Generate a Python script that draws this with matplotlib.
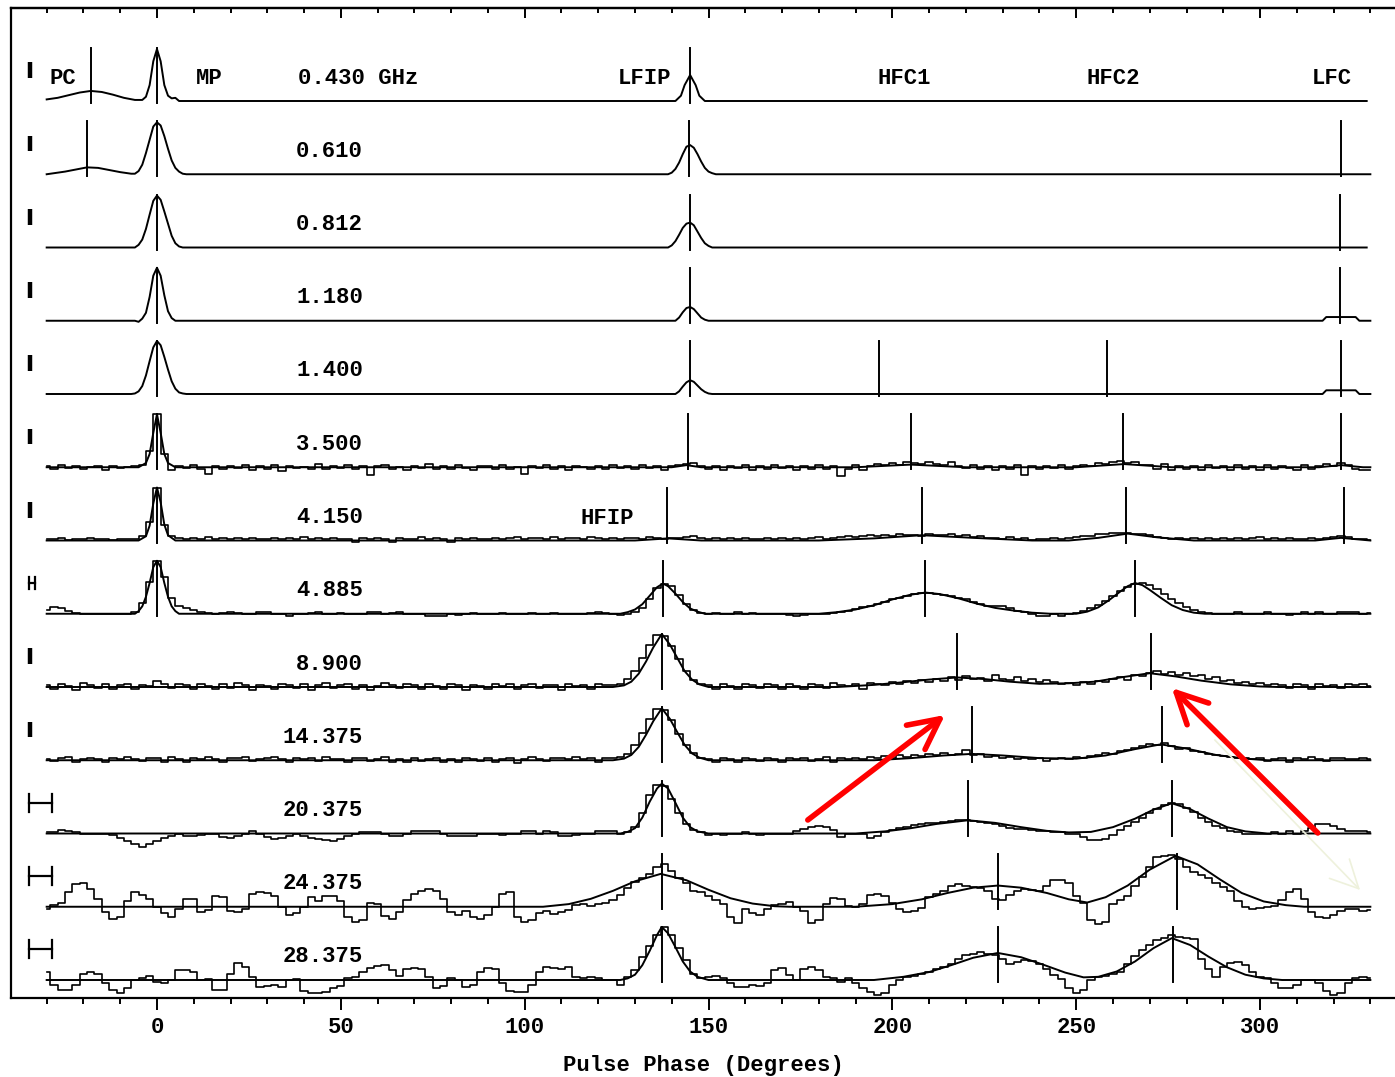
import numpy as np
import matplotlib
matplotlib.use("Agg")
import matplotlib.pyplot as plt
from matplotlib.ticker import MultipleLocator

# ---------------------------------------------------------------- labels
FREQ_LABELS = ["0.430 GHz", "0.610", "0.812", "1.180", "1.400", "3.500", "4.150",
               "4.885", "8.900", "14.375", "20.375", "24.375", "28.375"]
COMP_NAMES = ["PC", "MP", "LFIP", "HFC1", "HFC2", "LFC"]
COMP_NAME_PHASE = [-25.6, 14.1, 132.7, 203.2, 260.0, 319.4]
HFIP_NAME_PHASE = 122.5
X_TICK_LABELS = ["0", "50", "100", "150", "200", "250", "300"]

# ---------------------------------------------------- clean profiles (knots)
# phase (deg) and intensity (% of the tallest peak)
PH_0430 = [-30, -27, -24, -21, -18, -15, -12, -9, -6, -4, -3, -2, -1, 0, 1, 2, 3, 4, 5, 6,
           141, 142.5, 143.5, 145, 146.5, 147.5, 149, 329]
I_0430 = [3, 6, 11, 16, 19, 17, 12, 6, 2, 2, 8, 30, 75, 98, 75, 30, 10, 5, 6, 0,
          0, 10, 30, 49, 30, 10, 0, 0]

PH_0610 = [-30, -28, -25, -22, -19, -16, -13, -10, -7, -6, -5, -4, -3, -2, -1, 0, 1, 2, 3, 4,
           5, 6, 7, 8, 139, 140, 141, 142, 143, 144, 145, 146, 147, 148, 149, 150, 151, 152, 330]
I_0610 = [0, 2, 5, 9, 13, 12, 8, 4, 1, 1, 6, 18, 40, 65, 90, 98, 92, 72, 48, 26,
          12, 5, 1, 0, 0, 3, 10, 22, 38, 52, 55, 50, 38, 24, 12, 5, 2, 0, 0]

PH_0812 = [-30, -6, -5, -4, -3, -2, -1, 0, 1, 2, 3, 4, 5, 6, 7,
           139, 140, 141, 142, 143, 144, 145, 146, 147, 148, 149, 150, 151, 329]
I_0812 = [0, 0, 5, 15, 35, 62, 88, 98, 90, 68, 45, 22, 8, 2, 0,
          0, 4, 12, 24, 37, 45, 47, 42, 30, 18, 8, 3, 0, 0]

PH_1180 = [-30, -6, -5, -4, -3, -2, -1, 0, 1, 2, 3, 4, 5,
           141, 142, 143, 144, 145, 146, 147, 148, 149, 150, 317, 318, 326, 327, 330]
I_1180 = [0, 0, -2, 4, 15, 45, 85, 100, 85, 48, 18, 5, 0,
          0, 6, 16, 24, 26, 22, 14, 6, 2, 0, 0, 7, 7, 0, 0]

PH_1400 = [-30, -7, -6, -5, -4, -3, -2, -1, 0, 1, 2, 3, 4, 5, 6, 7, 8,
           141, 142, 143, 144, 145, 146, 147, 148, 149, 150, 151, 317, 318, 326, 327, 330]
I_1400 = [0, 0, 1, 5, 15, 35, 62, 88, 100, 92, 70, 46, 24, 10, 3, 1, 0,
          0, 5, 14, 22, 26, 23, 16, 9, 4, 1, 0, 0, 7, 7, 0, 0]

# ------------------------------------------- noisy profiles, 2-degree bins
BIN_START = -30
BIN_WIDTH = 2

I_3500 = [2, -3, 4, -2, 3, -4, 1, 2, -5, 3, -2, 0, 2, 4, 30, 100, 25, -6, 3, -2,
          4, -3, -12, 2, -4, 3, -2, 5, -5, 2, -3, 4, -8, 3, -2, 1, -4, 6, -3, 2,
          -2, 5, -4, 3, -14, 2, 4, -3, 1, -5, 3, -2, 6, -4, 2, -3, 4, -2, -5, 3,
          2, -4, 5, -3, 1, -12, 3, -2, 4, -3, 2, -5, 3, 1, -4, 2, -3, 5, -2, 3,
          -3, 4, -2, 3, -5, 2, 4, 6, 8, 3, -4, 2, -6, 3, -2, 4, -5, 2, -3, 5,
          -2, 3, -6, 2, -4, 5, -3, 2, -16, -3, 4, -5, 2, 6, 4, 8, 5, 10, 8, 6,
          9, 7, 4, 10, 3, -2, 5, -4, 2, -6, 3, -3, 4, -14, 2, -4, 3, -2, 5, -3,
          2, 4, 3, 8, 6, 10, 12, 8, 9, 4, 5, -3, 6, -5, 2, -4, 3, -6, 4, -2,
          3, -5, 4, -3, 2, -6, 5, -4, 3, -2, -5, 4, -3, 2, 6, 3, 8, 4, -3, -5,
          -6]
I_4150 = [3, 2, 4, 1, 3, 2, 4, 2, 3, 1, 2, 3, 2, 8, 35, 100, 30, 8, 4, 2,
          5, 3, 6, 2, 4, 3, 5, 2, 4, 3, 2, 5, 3, 4, 2, 6, 3, 5, 2, 4,
          3, 2, -3, 4, 2, 5, 3, -2, 4, 2, 3, 6, 2, 4, 3, -3, 5, 2, 4, 3,
          2, 5, 3, 4, 6, 3, 5, 4, 2, 6, 3, 5, 4, 3, 6, 4, 2, 5, 3, 4,
          5, 3, 6, 4, 3, 5, 4, 6, 8, 5, 3, 4, 2, 5, 3, 4, 2, 3, 5, 3,
          4, 2, 5, 3, 4, 6, 3, 5, 6, 8, 7, 9, 10, 8, 11, 9, 12, 10, 11, 9,
          12, 10, 11, 13, 9, 10, 7, 8, 4, 5, 3, 6, 2, 4, 1, 3, 2, 4, 3, 5,
          6, 8, 9, 12, 13, 15, 14, 15, 12, 13, 10, 6, 4, 3, 5, 2, 4, 3, 5, 2,
          4, 3, 5, 2, 4, 6, 3, 5, 2, 4, 3, 2, 5, 3, 4, 6, 8, 6, 3, 2,
          1]
I_4885 = [8, 12, 11, 5, 2, 0, 0, 0, 0, 0, 0, 0, 3, 20, 60, 100, 70, 30, 15, 10,
          8, 4, 2, 0, 2, 3, 2, 0, 0, 3, 4, 0, 0, -4, 0, 0, 2, 3, 0, 0,
          2, 0, 0, 0, 3, 3, 0, 2, 4, 0, 0, 0, -5, -5, -4, 0, -3, 0, 2, 0,
          0, 0, 2, 0, 0, 0, 2, 0, 0, 2, 0, 0, 0, 0, 2, 3, 2, 0, -3, 0,
          3, 10, 28, 48, 57, 52, 35, 18, 7, 2, 0, 2, 0, 0, 3, 0, 2, 0, 0, 0,
          0, -3, -4, -3, 0, 0, 0, 2, 3, 6, 9, 12, 15, 19, 23, 27, 30, 34, 37, 40,
          40, 38, 35, 33, 30, 27, 22, 18, 15, 14, 15, 10, 6, 3, 0, -4, -4, 0, -4, 0,
          2, 5, 10, 16, 24, 33, 42, 51, 57, 58, 55, 47, 38, 28, 20, 12, 7, 3, 2, 0,
          0, 0, 3, 0, 0, 0, 3, 0, 0, -3, 0, 3, 0, 3, 0, 0, 4, 4, 4, 0,
          2]
I_8900 = [4, -3, 6, 2, -5, 8, 3, -2, 5, -4, 3, 6, -3, 4, 2, 12, 6, -2, 5, 3,
          -4, 6, 2, -3, 5, -2, 7, 3, -6, 4, 2, -3, 6, 4, -2, 5, -5, 3, 7, -2,
          3, 6, -3, 4, -5, 2, 8, 3, -2, 5, 4, -4, 6, 2, -3, 5, 3, -6, 4, 2,
          -3, 5, 2, 6, -4, 3, 5, -2, 4, 3, -5, 6, 2, 4, -3, 5, 3, 4, 6, 15,
          30, 55, 80, 98, 96, 78, 52, 30, 14, 6, 4, -3, 5, 2, -4, 6, 3, -2, 5, 4,
          -3, 6, 2, -4, 5, 3, -2, 7, 4, 2, 6, -3, 8, 5, 3, 9, 6, 12, 8, 14,
          10, 16, 12, 18, 14, 20, 15, 17, 12, 22, 16, 13, 18, 12, 15, 9, 14, 10, 6, 8,
          4, 9, 6, 12, 10, 15, 18, 14, 22, 20, 26, 30, 24, 28, 22, 26, 20, 22, 16, 18,
          12, 14, 8, 10, 5, 8, 3, 6, 4, -2, 5, 3, -3, 6, 2, 4, -2, 5, 3, 6,
          2]
I_14375 = [3, -2, 4, 6, -3, 2, 5, 3, -4, 4, 2, 6, 3, -2, 5, 4, -3, 6, 2, -4,
           4, 3, 6, 2, -3, 5, 4, 7, -2, 3, 5, 6, 2, -4, 4, 3, 5, -2, 6, 3,
           2, -3, 5, 4, -2, 3, 6, -4, 2, -3, 4, -2, 3, 5, -4, 2, -3, 4, 3, -2,
           5, -3, 2, 4, -5, 3, 6, 2, -2, 4, 5, 3, 6, 2, 4, -3, 5, 4, 6, 12,
           28, 52, 78, 96, 95, 76, 50, 28, 13, 5, 3, -3, 4, 2, -4, 5, 3, -2, 4, 2,
           -3, 4, 2, 5, -2, 3, 6, -4, 4, 2, 5, 3, 6, 4, 8, 5, 9, 7, 10, 8,
           12, 9, 14, 10, 12, 20, 9, 11, 7, 8, 5, 6, 3, 5, 2, 4, -2, 3, 5, 2,
           6, 4, 8, 10, 14, 12, 18, 20, 24, 26, 30, 28, 32, 26, 22, 24, 18, 16, 12, 10,
           8, 6, 4, 5, 2, 4, -2, 3, 5, -3, 4, 2, 6, 3, -2, 4, 5, 3, 2, 4,
           3]
I_20375 = [2, 3, 6, 5, 3, 0, 0, 0, 0, -3, -8, -14, -20, -25, -20, -15, -8, -4, 0, -4,
           -4, -2, 0, 0, -6, -8, -4, 0, 4, 0, -6, -10, -8, -4, 0, -4, -8, -10, -12, -14,
           -10, -4, 0, 3, 3, 3, 0, -4, -4, 0, 5, 5, 5, 5, 0, -5, -5, -4, -5, 0,
           0, 0, -3, 0, 0, 4, 4, 0, 4, 3, -4, -4, -2, 0, 0, 5, 5, 5, 0, 3,
           12, 38, 72, 92, 90, 66, 38, 18, 6, 2, -3, 0, -2, 0, 0, 3, 0, -2, 0, 0,
           0, 0, 4, 8, 12, 14, 12, 6, -6, 0, 0, 0, -8, -4, 2, 6, 10, 12, 16, 18,
           20, 20, 22, 24, 25, 25, 24, 22, 20, 18, 14, 10, 8, 8, 6, 4, 4, 3, 2, 0,
           0, -6, -12, -12, -10, -2, 6, 14, 22, 30, 38, 46, 53, 57, 55, 48, 40, 30, 22, 15,
           10, 5, 3, 0, 0, 0, 0, 3, 0, 5, 0, 4, 10, 18, 18, 15, 8, 5, 5, 4,
           3]
I_24375 = [-4, 4, 8, 28, 42, 45, 34, 15, -10, -23, -20, 10, 28, 22, 15, 0, -12, -19, -5, 15,
           15, -10, -6, 21, 18, -8, -10, -5, 24, 28, 26, 20, 0, -15, -12, 0, 18, 10, 21, 20,
           10, -20, -28, -25, 8, 5, -18, -23, -10, 12, 25, 30, 34, 30, 15, -10, -15, -8, -20, -23,
           -15, 0, 25, 28, -20, -28, -25, -12, -8, -13, -10, -6, 3, 5, 2, 6, 8, 12, 22, 35,
           47, 55, 62, 75, 81, 68, 55, 45, 30, 28, 20, 12, 5, -20, -30, -5, -12, -15, -5, 3,
           6, 9, 0, -8, -30, -25, 6, 17, 15, 2, 0, 5, 22, 25, 20, 8, -5, -10, -8, -3,
           18, 25, 30, 40, 42, 40, 38, 36, 30, 15, 13, 22, 30, 34, 32, 30, 40, 50, 51, 45,
           20, 8, -25, -32, -28, 5, 12, 20, 40, 57, 75, 94, 96, 98, 90, 75, 66, 60, 55, 45,
           38, 30, 10, 0, -5, -3, 0, 2, 12, 28, 34, 15, -10, -20, -22, -15, -8, -5, -4, -8,
           -6]
I_28375 = [15, -10, -18, -19, -10, 12, 15, 12, -5, -19, -25, -15, 0, 3, 8, -3, -5, 0, 18, 19,
           15, 0, 2, -19, -18, 12, 32, 25, 5, -13, -12, -10, -13, 0, 2, -20, -25, -25, -22, -15,
           -12, 3, 5, 15, 22, 26, 28, 18, 8, 20, 22, 20, 5, -15, -12, 3, 0, -13, -10, 15,
           22, 20, -5, -20, -22, -22, -10, 15, 25, 22, 20, 24, 5, 3, 5, 3, 0, 0, -9, 5,
           18, 43, 65, 85, 100, 85, 60, 38, 12, 3, 5, 8, 3, -5, -13, -13, -10, -12, -5, 18,
           22, 10, 0, 20, 25, 18, 5, 3, -3, 3, -5, -15, -22, -28, -25, -10, 0, 5, 8, 12,
           15, 20, 25, 30, 40, 47, 50, 53, 50, 48, 40, 30, 34, 38, 36, 30, 20, 10, 2, -15,
           -25, -18, 0, 5, 8, 12, 16, 30, 45, 57, 66, 75, 80, 85, 82, 80, 78, 40, 20, 5,
           25, 32, 34, 28, 15, 5, 3, -5, -15, -15, -10, 0, 0, -5, -20, -28, -25, -5, 3, 5,
           4]

# ------------------------------------------------ fitted curves (knots)
FPH_3500 = [-30, -5, -3, -2, -1, 0, 1, 2, 3, 5, 140, 144, 148, 190, 205, 220, 250, 263, 276, 316, 322, 328, 330]
FIT_3500 = [0, 0, 8, 25, 65, 100, 65, 25, 8, 0, 0, 4, 0, 0, 5, 0, 0, 6, 0, 0, 4, 0, 0]
FPH_4150 = [-30, -5, -3, -2, -1, 0, 1, 2, 3, 5, 130, 139, 148, 180, 195, 208, 222, 238, 248, 256, 264, 272, 282, 315, 322, 330]
FIT_4150 = [0, 0, 8, 28, 70, 100, 72, 30, 10, 0, 0, 4, 0, 0, 4, 10, 5, 0, 0, 5, 13, 6, 0, 0, 5, 0]
FPH_4885 = [-30, -6, -5, -4, -3, -2, -1, 0, 1, 2, 3, 4, 5, 6, 126, 128, 130, 132, 134, 136, 137.6, 139, 141, 143, 145, 147, 149,
            180, 185, 190, 195, 200, 205, 209, 213, 218, 223, 228, 233, 238, 243, 250, 253, 256, 259, 262, 264, 266, 268, 270, 273,
            276, 279, 282, 285, 330]
FIT_4885 = [0, 0, 5, 14, 32, 58, 88, 100, 88, 58, 32, 14, 5, 0, 0, 3, 8, 18, 34, 50, 57, 52, 38, 22, 10, 4, 0,
            0, 3, 8, 16, 27, 36, 40, 37, 29, 19, 11, 6, 2, 0, 0, 4, 12, 26, 42, 52, 58, 54, 45, 30,
            16, 7, 2, 0, 0]
FPH_8900 = [-30, 124, 127, 129, 131, 133, 135, 137.3, 139.5, 141.5, 143.5, 145.5, 147.5, 150, 185, 195, 203, 210, 217.6, 225,
            232, 240, 248, 255, 262, 270, 277, 284, 292, 300, 305, 330]
FIT_8900 = [0, 0, 3, 10, 25, 48, 75, 100, 80, 55, 30, 14, 5, 0, 0, 4, 9, 14, 18, 15,
            10, 6, 7, 10, 18, 26, 20, 12, 5, 1, 0, 0]
FPH_14375 = [-30, 124, 127, 129, 131, 133, 135, 137.3, 139.5, 141.5, 143.5, 145.5, 147.5, 150, 195, 205, 214, 221.6, 230,
             240, 250, 258, 266, 273, 280, 288, 296, 302, 330]
FIT_14375 = [0, 0, 3, 10, 25, 48, 74, 98, 78, 53, 29, 13, 5, 0, 0, 4, 9, 12, 9,
             4, 3, 9, 21, 30, 22, 10, 3, 0, 0]
FPH_20375 = [-30, 126, 128, 130, 132, 134, 136, 137.3, 139, 141, 143, 145, 147, 150, 190, 198, 205, 212, 220.6, 228,
             235, 242, 248, 254, 260, 266, 271, 276, 281, 286, 291, 296, 302, 330]
FIT_20375 = [0, 0, 3, 10, 30, 60, 85, 94, 85, 58, 30, 12, 4, 0, 0, 4, 10, 18, 25, 20,
             12, 5, 2, 3, 12, 28, 45, 57, 46, 28, 12, 4, 0, 0]
FPH_24375 = [-30, 105, 112, 118, 124, 130, 137, 144, 150, 156, 162, 168, 172, 190, 200, 208, 215, 222, 228.7, 235,
             242, 248, 253, 258, 264, 270, 277, 283, 289, 295, 301, 307, 312, 330]
FIT_24375 = [0, 0, 5, 15, 30, 48, 62, 50, 32, 16, 6, 1, 0, 0, 5, 14, 26, 36, 40, 36,
             26, 14, 8, 18, 40, 70, 96, 80, 52, 26, 10, 3, 0, 0]
FPH_28375 = [-30, 126, 128, 130, 132, 134, 136, 137.3, 139, 141, 143, 145, 147, 150, 195, 203, 210, 216, 222, 228.7,
             235, 241, 247, 252, 256, 261, 266, 271, 276, 281, 286, 291, 296, 301, 306, 330]
FIT_28375 = [0, 0, 3, 10, 28, 55, 85, 100, 88, 62, 35, 16, 6, 0, 0, 6, 15, 28, 42, 51,
             43, 29, 14, 5, 6, 16, 35, 60, 79, 66, 44, 24, 10, 3, 0, 0]

# --------------------------------------------- component marker phases
MARK_0430 = [-18, 0, 145]
MARK_0610 = [-19, 0, 144.7, 322]
MARK_0812 = [0, 145, 321.7]
MARK_1180 = [0, 145, 321.7]
MARK_1400 = [0, 145, 196.4, 258.4, 322]
MARK_3500 = [0, 144.4, 205, 262.7, 322]
MARK_4150 = [0, 138.7, 208, 263.5, 322.8]
MARK_4885 = [0, 137.6, 208.9, 266]
MARK_8900 = [137.3, 217.6, 270.3]
MARK_14375 = [137.3, 221.6, 273.3]
MARK_20375 = [137.3, 220.6, 276]
MARK_24375 = [137.3, 228.7, 277.4]
MARK_28375 = [137.3, 228.7, 276.3]

# scale-bar kind per row: "I" vertical, "h" narrow H, "H" wide H
BAR_KIND = ["I", "I", "I", "I", "I", "I", "I", "h", "I", "I", "H", "H", "H"]

# ------------------------------------------------------------ assembly
CLEAN = [(PH_0430, I_0430), (PH_0610, I_0610), (PH_0812, I_0812), (PH_1180, I_1180), (PH_1400, I_1400)]
NOISY = [I_3500, I_4150, I_4885, I_8900, I_14375, I_20375, I_24375, I_28375]
FITS = [(FPH_3500, FIT_3500), (FPH_4150, FIT_4150), (FPH_4885, FIT_4885), (FPH_8900, FIT_8900),
        (FPH_14375, FIT_14375), (FPH_20375, FIT_20375), (FPH_24375, FIT_24375), (FPH_28375, FIT_28375)]
MARKS = [MARK_0430, MARK_0610, MARK_0812, MARK_1180, MARK_1400, MARK_3500, MARK_4150,
         MARK_4885, MARK_8900, MARK_14375, MARK_20375, MARK_24375, MARK_28375]

# ------------------------------------------------------------- styling
FONT = dict(family=["Liberation Mono", "DejaVu Sans Mono"], weight="bold", size=16)
ROW_STEP = 73.25      # vertical spacing between profiles (axis units)
PCT = 0.53            # axis units per percent of intensity
LW = 1.4
NROW = len(FREQ_LABELS)

fig = plt.figure(figsize=(13.95, 10.77), dpi=100)
ax = fig.add_axes([11 / 1395, 79 / 1077, 1384 / 1395, 990 / 1077])
ax.set_xlim(-39.7, 336.7)
ax.set_ylim(-18, 972)

for i in range(NROW):
    base = (NROW - 1 - i) * ROW_STEP
    if i < len(CLEAN):
        ph, val = CLEAN[i]
        ax.plot(ph, base + np.asarray(val) * PCT, color="black", lw=LW)
    else:
        k = i - len(CLEAN)
        val = np.asarray(NOISY[k], dtype=float)
        ph = BIN_START + BIN_WIDTH * np.arange(len(val))
        ax.plot(ph, base + val * PCT, color="black", lw=1.2, drawstyle="steps-mid")
        fph, fval = FITS[k]
        ax.plot(fph, base + np.asarray(fval) * PCT, color="black", lw=LW)
    # component markers
    for m in MARKS[i]:
        ax.plot([m, m], [base - 4 * PCT, base + 100 * PCT], color="black", lw=1.4)
    # scale bar
    yc = base + 58 * PCT
    kind = BAR_KIND[i]
    if kind == "I":
        ax.plot([-34.5, -34.5], [yc - 15 * PCT, yc + 15 * PCT], color="black", lw=3.2,
                solid_capstyle="butt")
    else:
        xc, hw, hh = (-31.7, 3.1, 17) if kind == "H" else (-34.0, 0.7, 11)
        ax.plot([xc - hw, xc + hw], [yc, yc], color="black", lw=1.6)
        for xe in (xc - hw, xc + hw):
            ax.plot([xe, xe], [yc - hh * PCT, yc + hh * PCT], color="black", lw=1.6)
    # frequency label
    if i == 0:
        ax.text(38.3, base + 23, FREQ_LABELS[i], ha="left", va="center", **FONT)
    else:
        ax.text(56.0, base + 23, FREQ_LABELS[i], ha="right", va="center", **FONT)

top_base = (NROW - 1) * ROW_STEP
for name, p in zip(COMP_NAMES, COMP_NAME_PHASE):
    ax.text(p, top_base + 23, name, ha="center", va="center", **FONT)
ax.text(HFIP_NAME_PHASE, (NROW - 7) * ROW_STEP + 22, "HFIP", ha="center", va="center", **FONT)

# annotation arrows
ax.annotate("", xy=(214.3, 265), xytext=(177.0, 160),
            arrowprops=dict(arrowstyle="->,head_length=1.1,head_width=0.55", color="#ff0000",
                            lw=4, shrinkA=0, shrinkB=0, mutation_scale=20))
ax.annotate("", xy=(276.0, 292), xytext=(315.7, 147),
            arrowprops=dict(arrowstyle="->,head_length=1.1,head_width=0.55", color="#ff0000",
                            lw=4, shrinkA=0, shrinkB=0, mutation_scale=20))
ax.annotate("", xy=(327.2, 90), xytext=(287.7, 240),
            arrowprops=dict(arrowstyle="->,head_length=1.0,head_width=0.5", color="#eef1dc",
                            lw=1.2, shrinkA=0, shrinkB=0, mutation_scale=20))

# axes / ticks
for side in ("left", "top", "bottom"):
    ax.spines[side].set_linewidth(1.6)
ax.spines["right"].set_visible(False)
ax.set_yticks([])
ax.xaxis.set_major_locator(MultipleLocator(50))
ax.xaxis.set_minor_locator(MultipleLocator(10))
ax.set_xticks([0, 50, 100, 150, 200, 250, 300])
ax.set_xticklabels(X_TICK_LABELS, **FONT)
ax.tick_params(axis="x", which="major", direction="out", length=8.6, width=1.4, pad=5)
ax.tick_params(axis="x", which="minor", direction="out", length=4.0, width=1.4)

sec = ax.secondary_xaxis("top")
sec.xaxis.set_major_locator(MultipleLocator(50))
sec.xaxis.set_minor_locator(MultipleLocator(10))
sec.tick_params(axis="x", which="major", direction="in", length=7.2, width=1.4, labeltop=False)
sec.tick_params(axis="x", which="minor", direction="in", length=3.6, width=1.4)
sec.spines["top"].set_linewidth(1.6)

ax.set_xlabel("Pulse Phase (Degrees)", **FONT)
ax.xaxis.set_label_coords(0.5, -0.0576)

fig.savefig("out.png", dpi=100)
